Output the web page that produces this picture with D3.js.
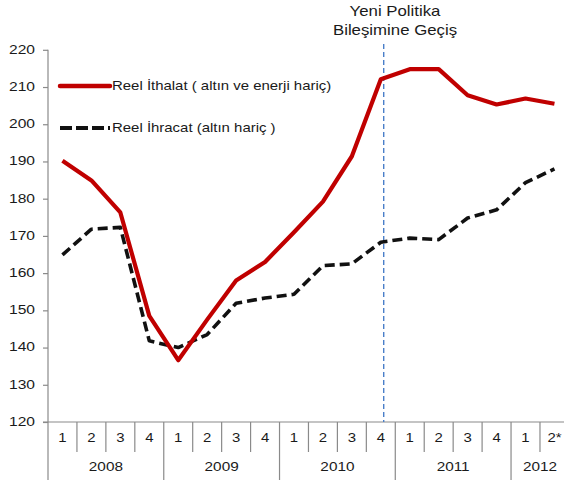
<!DOCTYPE html>
<html>
<head>
<meta charset="utf-8">
<script src="https://cdn.jsdelivr.net/npm/d3@7"></script>
<style>
  body { margin: 0; background: #fff; }
  text { font-family: "Liberation Sans", Arial, sans-serif; fill: #1a1a1a; }
</style>
</head>
<body>
<svg id="chart" width="564" height="485"></svg>
<script>
// Quarterly periods, 2008 Q1 – 2012 Q2 (provisional)
const quarters = ["1","2","3","4","1","2","3","4","1","2","3","4","1","2","3","4","1","2*"];
const years = ["2008","2009","2010","2011","2012"];
const yearSpans = [4, 4, 4, 4, 2];

// Real imports (excluding gold and energy)
const realImports = [190.2, 184.9, 176.3, 148.5, 136.6, 147.5, 158.0, 163.0, 171.0, 179.2, 191.4, 212.1, 214.8, 214.8, 207.8, 205.3, 206.9, 205.5];
// Real exports (excluding gold)
const realExports = [164.9, 171.8, 172.3, 141.8, 140.0, 143.5, 151.9, 153.3, 154.3, 162.0, 162.5, 168.3, 169.4, 169.0, 174.8, 177.0, 184.3, 188.0];

const yTicks = [120, 130, 140, 150, 160, 170, 180, 190, 200, 210, 220];
const policyIndex = 11; // 2010 Q4: shift to the new policy mix

const svg = d3.select("#chart");
const axisColor = "#8a8a8a";

// Wide-set text: a label placed at (x, y) and stretched horizontally
function addText(parent, data, opts) {
  return parent.append("g").selectAll("text").data(data).join("text")
    .attr("transform", (d, i) => `translate(${opts.x(d, i)},${opts.y(d, i)}) scale(${opts.sx || 1.2},1)`)
    .attr("text-anchor", opts.anchor || "middle")
    .attr("dominant-baseline", "middle")
    .attr("font-size", opts.size || 13)
    .text(opts.text || (d => d));
}

const idx = d3.range(quarters.length);
const x = d3.scaleBand().domain(idx).range([48, 48 + 18 * 28.94]).paddingInner(0).paddingOuter(0);
const y = d3.scaleLinear().domain([120, 220]).range([422, 49.8]);
const cx = i => x(i) + x.bandwidth() / 2;

// Y axis: tick marks from the axis generator, labels set wide
const yAxis = d3.axisLeft(y).tickValues(yTicks).tickSize(5).tickFormat("");
const gy = svg.append("g").attr("transform", "translate(48,0)").call(yAxis);
gy.select(".domain").remove();
gy.selectAll(".tick line").attr("stroke", axisColor).attr("stroke-width", 1.2);
addText(svg, yTicks, { x: () => 35, y: d => y(d) + 0.5, anchor: "end", size: 13, sx: 1.2 });
svg.append("line").attr("x1", 48).attr("x2", 48).attr("y1", y(220)).attr("y2", 480)
  .attr("stroke", axisColor).attr("stroke-width", 1.2);

// X axis baseline
svg.append("line").attr("x1", 43).attr("x2", 564).attr("y1", y(120)).attr("y2", y(120))
  .attr("stroke", axisColor).attr("stroke-width", 1.2);

// Quarter separators and labels
const yearStarts = new Set([0, 4, 8, 12, 16]);
svg.append("g").selectAll("line").data(idx.filter(i => i > 0)).join("line")
  .attr("x1", i => x(i)).attr("x2", i => x(i))
  .attr("y1", y(120)).attr("y2", i => yearStarts.has(i) ? 480 : 452)
  .attr("stroke", axisColor).attr("stroke-width", 1.2);
addText(svg, quarters, { x: (d, i) => cx(i), y: () => 439, size: 13, sx: 1.15 });

// Year labels
let start = 0;
const yearPos = years.map((yr, k) => {
  const s = start; start += yearSpans[k];
  return { yr, mid: (x(s) + x(s + yearSpans[k] - 1) + x.bandwidth()) / 2 };
});
addText(svg, yearPos, { x: d => d.mid, y: () => 468, size: 13, sx: 1.18, text: d => d.yr });

// Policy marker
const px = x(policyIndex) + x.bandwidth() * 0.6;
svg.append("line").attr("x1", px).attr("x2", px).attr("y1", 44).attr("y2", y(120))
  .attr("stroke", "#4a7fc9").attr("stroke-width", 1.4).attr("stroke-dasharray", "5,3");
addText(svg, ["Yeni Politika", "Bileşimine Geçiş"], { x: () => 395, y: (d, i) => 12 + i * 19, size: 14, sx: 1.2 });

// Series lines
const line = d3.line().x((d, i) => cx(i)).y(d => y(d));
svg.append("path").datum(realExports).attr("d", line)
  .attr("fill", "none").attr("stroke", "#111").attr("stroke-width", 3.6)
  .attr("stroke-dasharray", "10,5").attr("stroke-linejoin", "round");
svg.append("path").datum(realImports).attr("d", line)
  .attr("fill", "none").attr("stroke", "#c00000").attr("stroke-width", 4.2)
  .attr("stroke-linejoin", "round");

// Legend
const legend = [
  { label: "Reel İthalat ( altın ve enerji hariç)", color: "#c00000", dash: null, w: 4.5, y: 86 },
  { label: "Reel İhracat (altın hariç )", color: "#111", dash: "12,4", w: 3.8, y: 128 }
];
const lg = svg.append("g").selectAll("g").data(legend).join("g");
lg.append("line").attr("x1", 60).attr("x2", 110).attr("y1", d => d.y).attr("y2", d => d.y)
  .attr("stroke", d => d.color).attr("stroke-width", d => d.w)
  .attr("stroke-dasharray", d => d.dash).attr("stroke-linecap", d => d.dash ? "butt" : "round");
addText(svg, legend, { x: () => 112, y: d => d.y + 1, anchor: "start", size: 13, sx: 1.15, text: d => d.label });
</script>
</body>
</html>
